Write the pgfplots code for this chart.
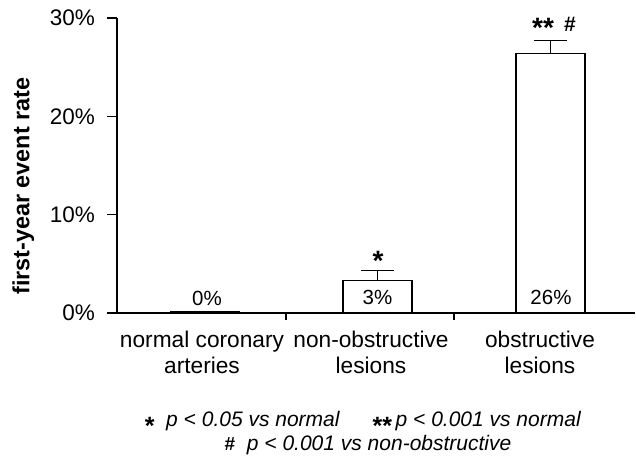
\documentclass[border=0pt]{standalone}
\usepackage{pgfplots}
\pgfplotsset{compat=1.18}
\usepackage{fontspec}
\setmainfont{Liberation Sans}
\pgfplotstableread{
x y e
377.5 3.29 1.0
550.5 26.4 1.3
}\bardata
\pgfplotstableread{
x y
205 0.15
}\bardatazero
\begin{document}
\begin{tikzpicture}
\path[use as bounding box] (-117pt,-149pt) rectangle (519pt,313pt);
\begin{axis}[
  anchor=south west, at={(0,0)},
  scale only axis, width=518pt, height=295pt,
  xmin=117, xmax=635, ymin=0, ymax=30,
  axis lines=left, axis line style={-, line width=1.2pt},
  xtick=\empty,
  extra x ticks={286,454}, extra x tick labels={},
  extra x tick style={major tick length=7pt, tick align=outside},
  ytick={0,10,20,30},
  yticklabels={0\%,10\%,20\%,30\%},
  tick align=outside, major tick length=10pt,
  tick style={black, line width=1.1pt},
  yticklabel style={font=\fontsize{22.5}{26}\selectfont, anchor=east, inner sep=0pt},
  yticklabel shift=12pt,
  clip=false,
  ylabel={\bfseries first-year event rate},
  ylabel style={font=\fontsize{23.4}{26}\selectfont, at={(axis description cs:-0.181,0.43)}, anchor=center},
]
\addplot[ybar, bar shift=0pt, bar width=69, fill=white, draw=black, line width=1.3pt]
  table[x=x, y=y] {\bardatazero};
\addplot[ybar, bar shift=0pt, bar width=69, fill=white, draw=black, line width=1.3pt,
  error bars/.cd, y dir=plus, y explicit, error mark=|,
  error bar style={line width=1pt, black},
  error mark options={black, mark size=16.5pt, line width=1pt}]
  table[x=x, y=y, y error=e] {\bardata};
% value labels
\node[anchor=base, font=\fontsize{20.5}{24}\selectfont] at (axis cs:207,0) [yshift=7pt] {0\%};
\node[anchor=base, font=\fontsize{20.5}{24}\selectfont] at (axis cs:377.5,0) [yshift=8pt] {3\%};
\node[anchor=base, font=\fontsize{20.5}{24}\selectfont] at (axis cs:551,0) [yshift=8pt] {26\%};
% significance marks
\node[font=\fontsize{28}{30}\selectfont\bfseries] at (axis cs:378,5.3) {*};
\node[font=\fontsize{28}{30}\selectfont\bfseries] at (axis cs:543,28.95) {**};
\node[font=\fontsize{21}{22}\selectfont\bfseries] at (axis cs:570,29.4) {\#};
% category labels
\node[anchor=north, align=center, inner sep=0pt, font=\fontsize{22.7}{26}\selectfont] at (axis cs:202,0) [yshift=-17.5pt] {normal coronary\\arteries};
\node[anchor=north, align=center, inner sep=0pt, font=\fontsize{22.7}{26}\selectfont] at (axis cs:371,0) [yshift=-17.5pt] {non-obstructive\\lesions};
\node[anchor=north, align=center, inner sep=0pt, font=\fontsize{22.7}{26}\selectfont] at (axis cs:540,0) [yshift=-17.5pt] {obstructive\\lesions};
\end{axis}
% footnotes
\node[anchor=base, inner sep=0pt, font=\fontsize{21}{24}\selectfont] at (246pt,-113pt)
  {\smash{\raisebox{-8pt}{\fontsize{25}{26}\selectfont\bfseries *}}\ \ \textit{p < 0.05 vs normal}\quad\ \ \smash{\raisebox{-8pt}{\fontsize{25}{26}\selectfont\bfseries **}}\,\textit{p < 0.001 vs normal}};
\node[anchor=base, inner sep=0pt, font=\fontsize{21}{24}\selectfont] at (251pt,-137pt)
  {{\fontsize{19}{20}\selectfont\bfseries\#}\ \ \textit{p < 0.001 vs non-obstructive}};
\end{tikzpicture}
\end{document}
